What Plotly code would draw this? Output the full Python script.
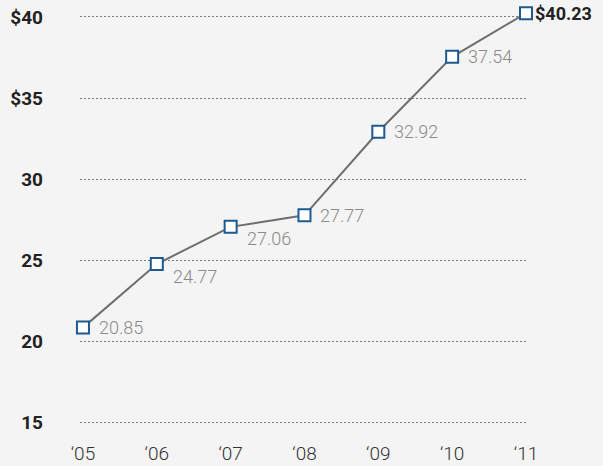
import plotly.graph_objects as go

years = ["‘05", "‘06", "‘07", "‘08", "‘09", "‘10", "‘11"]
values = [20.85, 24.77, 27.06, 27.77, 32.92, 37.54, 40.23]
value_labels = ["20.85", "24.77", "27.06", "27.77", "32.92", "37.54", "$40.23"]
label_below = [False, True, True, False, False, False, False]
y_tickvals = [15, 20, 25, 30, 35, 40]
y_ticktext = ["15", "20", "25", "30", "$35", "$40"]

BG = "#f4f4f4"
fig = go.Figure()
fig.add_trace(go.Scatter(
    x=years, y=values, mode="lines+markers",
    line=dict(color="#6e6e6e", width=2),
    marker=dict(symbol="square", size=12, color="white",
                line=dict(color="#1d5a92", width=2)),
    cliponaxis=False, hoverinfo="skip",
))

for i, (yr, v, t) in enumerate(zip(years, values, value_labels)):
    last = i == len(years) - 1
    fig.add_annotation(
        x=yr, y=v, text=("<b>%s</b>" % t) if last else t,
        showarrow=False, xanchor="left", yanchor="middle",
        xshift=7 if last else 14, yshift=-12 if label_below[i] else 0,
        font=dict(family="Roboto", size=18,
                  color="#222222" if last else "#8a8a8a",
                  weight=400 if last else 300),
    )

fig.update_layout(
    width=603, height=466,
    paper_bgcolor=BG, plot_bgcolor=BG,
    margin=dict(l=80, r=77, t=8, b=36, autoexpand=False),
    showlegend=False,
    xaxis=dict(
        type="category", range=[-0.04, 6.0], automargin=False,
        showgrid=False, zeroline=False, showline=False,
        ticks="", ticklabelstandoff=10,
        tickfont=dict(family="Roboto", size=19, color="#333333", weight=300),
    ),
    yaxis=dict(
        range=[14.54, 40.55], automargin=False,
        tickvals=y_tickvals, ticktext=y_ticktext,
        showgrid=True, gridcolor="#7a7a7a", gridwidth=1, griddash="2px,2px",
        zeroline=False, showline=False, ticks="",
        ticklabelstandoff=36,
        tickfont=dict(family="Roboto", size=19, color="#222222", weight=700),
    ),
)

fig.write_html(
    "out.html",
    config={"displayModeBar": False},
    post_script="document.body.style.margin='0';document.body.style.overflow='hidden';document.body.style.background='#f4f4f4';",
)
